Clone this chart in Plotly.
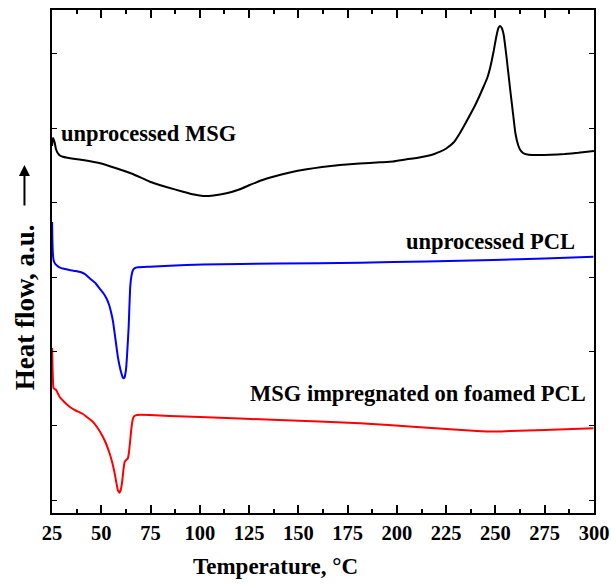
import plotly.graph_objects as go

# Temperature (°C) and heat flow (a.u., arbitrary offset per curve)
msg_T = [25.0, 25.5, 26.3, 27.0, 27.9, 29.0, 30.5, 35, 40.7, 50, 57.6, 66, 74.6, 83, 91.5, 97,
         101.7, 107, 113.5, 120, 125.4, 131, 137.2, 145.7, 154.2, 162, 171.1, 181, 191.4, 198,
         205, 210, 215.2, 219, 221.9, 225, 229, 232, 235.7, 240, 243.9, 246, 247.4, 249, 250.5,
         251.5, 252.3, 253.2, 254.2, 255.5, 257.5, 259, 260.1, 261.5, 262.6, 264, 266.2, 270,
         277.9, 285, 292, 300]
msg_hf = [367, 375, 371, 364, 360, 357.5, 356.3, 354.5, 353, 349.5, 344.7, 339, 331.3, 326, 321.3,
          318.5, 317, 317.5, 319.7, 323.5, 328, 332.5, 336.3, 340.5, 343.7, 346, 348, 349.5, 350.7,
          351.5, 353.7, 355, 357, 359, 361.3, 364.5, 371, 380, 393, 409, 426, 436, 446, 461, 477,
          485, 487, 485, 478, 458, 423, 398, 380, 368, 363, 360, 358.5, 358, 358.2, 359, 360.2, 362]

pcl_T = [25.05, 25.2, 25.5, 25.8, 26.5, 27.5, 28.8, 31, 33.9, 37, 39.8, 42, 44.1, 47, 49.1, 51,
         52.6, 54, 55.1, 56, 56.8, 57.6, 58.4, 59.3, 60.2, 60.8, 61.3, 61.8, 62.3, 62.7, 63.3, 63.9,
         64.3, 64.7, 65.3, 66.1, 67, 68.6, 74.6, 84.7, 101.5, 140, 181.3, 215, 248.9, 275, 299.7]
pcl_hf = [291, 273, 258, 253, 249.5, 247.5, 245.7, 244.2, 243, 242, 240.7, 238.5, 234.7, 230, 224.7,
          220, 214.7, 208, 199.7, 191, 179.7, 168, 156.3, 147, 139.7, 136, 134.7, 135.5, 140, 146.3,
          165, 186.3, 208, 226.3, 237, 243, 244.8, 245.7, 246.3, 247.3, 248.5, 249.4, 250.3, 251.5,
          253, 254.5, 256.3]

imp_T = [25.05, 25.3, 25.6, 25.8, 27.1, 28.8, 31, 33.9, 37, 40.7, 43, 45.7, 48, 50.8, 52.5, 54.2,
         55.5, 56.8, 57.6, 58.4, 59.3, 60, 60.7, 61.3, 61.9, 62.7, 63.5, 64, 64.7, 65.3, 66.1, 67,
         68.1, 74.6, 84.7, 100, 140, 181.3, 210, 240.6, 250, 257.5, 275, 299.7]
imp_hf = [165, 143, 128, 124.7, 123, 116.3, 111.5, 106.3, 102.5, 99, 95.5, 91.3, 85.5, 76.3, 69,
          59.7, 51, 39.7, 31, 23, 20.3, 24, 33, 44, 51.3, 53, 54.7, 60, 73, 85, 94.7, 97.2, 98, 98,
          97, 96, 93, 89.7, 86, 82, 81.5, 82, 83, 84.7]

x_ticks = [25, 50, 75, 100, 125, 150, 175, 200, 225, 250, 275, 300]
y_ticks = [13, 88, 162, 236, 311, 385, 460]

FONT = "Liberation Serif"

fig = go.Figure()
for T, hf, col in [(msg_T, msg_hf, "black"), (pcl_T, pcl_hf, "#0000ff"), (imp_T, imp_hf, "#ff0000")]:
    fig.add_trace(go.Scatter(x=T, y=hf, mode="lines",
                             line=dict(color=col, width=2, shape="spline", smoothing=0.4),
                             showlegend=False, hoverinfo="skip"))

lab_font = dict(family=FONT, size=22.5, color="black", weight="bold")
fig.add_annotation(x=28.8, y=380, xref="x", yref="y", text="unprocessed MSG",
                   showarrow=False, xanchor="left", yanchor="middle", font=lab_font)
fig.add_annotation(x=291.6, y=272, xref="x", yref="y", text="unprocessed PCL",
                   showarrow=False, xanchor="right", yanchor="middle", font=lab_font)
fig.add_annotation(x=296.7, y=120, xref="x", yref="y", text="MSG impregnated on foamed PCL",
                   showarrow=False, xanchor="right", yanchor="middle", font=lab_font)

# axis titles
fig.add_annotation(x=0.413, y=-0.107, xref="paper", yref="paper", text="Temperature, °C",
                   showarrow=False, xanchor="center", yanchor="middle",
                   font=dict(family=FONT, size=23, color="black", weight="bold"))
fig.add_annotation(x=-0.0508, y=0.410, xref="paper", yref="paper", text="Heat flow, a.u.",
                   showarrow=False, xanchor="center", yanchor="middle", textangle=-90,
                   font=dict(family=FONT, size=27, color="black", weight="bold"))
fig.add_annotation(x=-0.0508, y=0.6918, xref="paper", yref="paper", text="",
                   showarrow=True, ax=0, ay=42, arrowhead=2, arrowsize=1.1, arrowwidth=2,
                   arrowcolor="black")

fig.update_xaxes(range=[25, 300], tickvals=x_ticks, ticks="inside", ticklen=8, tickwidth=1.5,
                 tickcolor="black", showline=True, linewidth=2, linecolor="black", mirror="ticks",
                 showgrid=False, zeroline=False, automargin=False,
                 minor=dict(ticks="inside", ticklen=4, tickwidth=1.5, tickcolor="black",
                            dtick=12.5, tick0=25, showgrid=False),
                 tickfont=dict(family=FONT, size=20.5, color="black", weight="bold"))
fig.update_yaxes(range=[0, 503], tickvals=y_ticks, ticks="inside", ticklen=5, tickwidth=1.2,
                 tickcolor="black", showticklabels=False, showline=True, linewidth=2,
                 linecolor="black", mirror="ticks", showgrid=False, zeroline=False,
                 automargin=False)

fig.update_layout(width=611, height=585, margin=dict(l=52, r=17, t=10, b=72),
                  plot_bgcolor="white", paper_bgcolor="white")

fig.write_html("out.html")
